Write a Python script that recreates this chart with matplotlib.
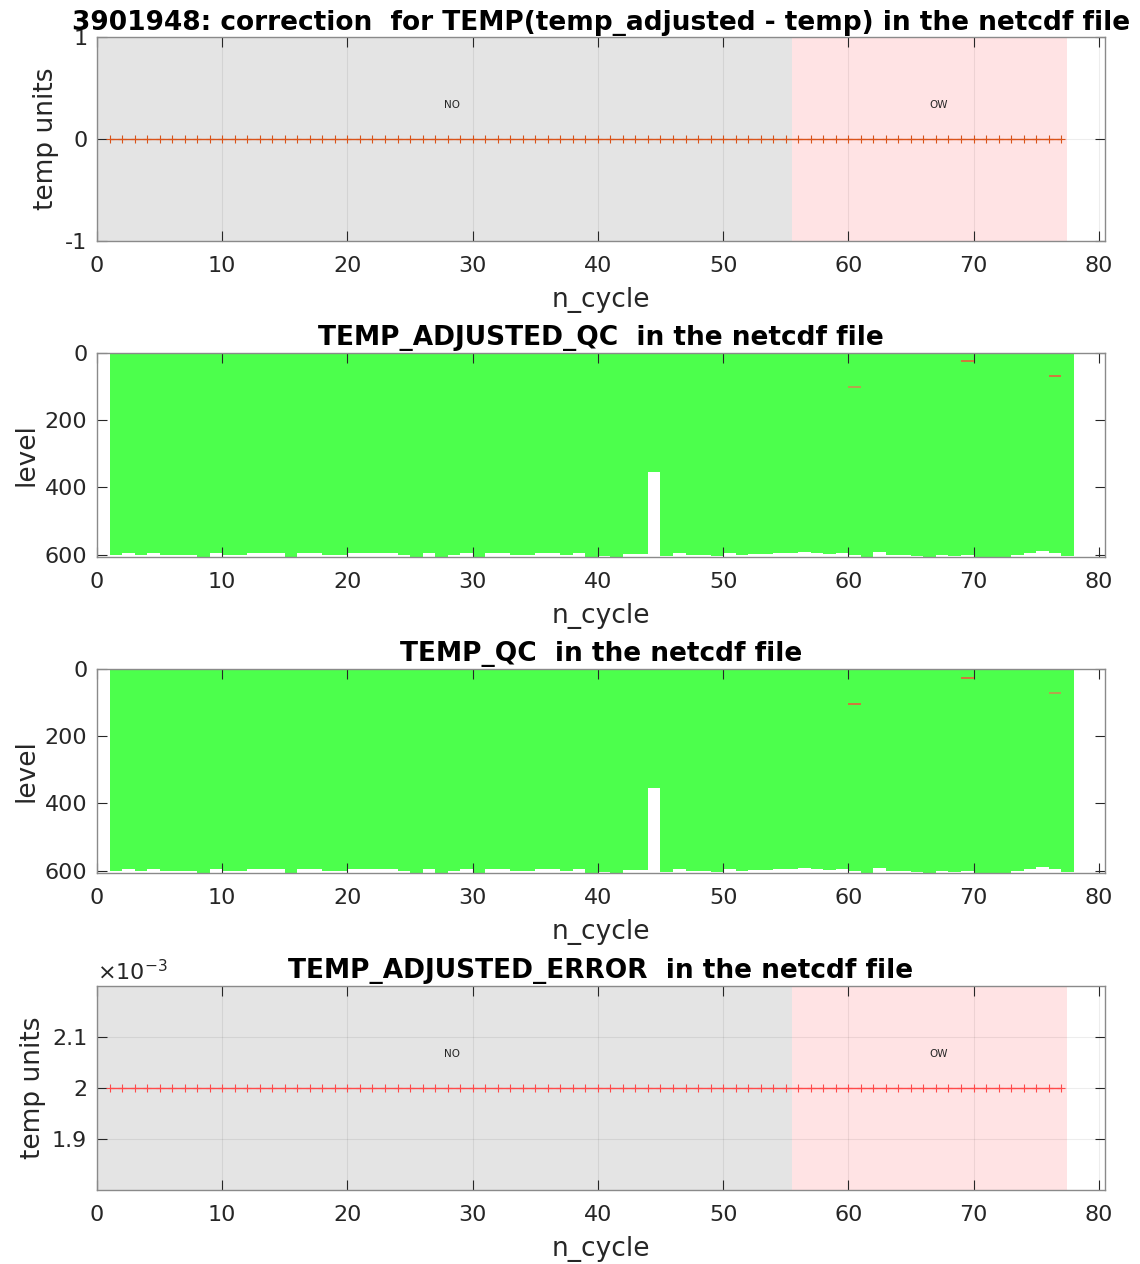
#!/usr/bin/env python3

import matplotlib
matplotlib.use('Agg')
import matplotlib.pyplot as plt
import matplotlib.ticker as ticker
import numpy as np

plt.rcParams['font.family'] = 'DejaVu Sans'
plt.rcParams['axes.unicode_minus'] = False

float_id = '3901948'
param = 'TEMP'

# cycles and profile data
cycles = np.arange(1, 78)
correction = np.zeros(len(cycles))
adj_error = np.full(len(cycles), 0.002)

# deepest level of each profile (cycles 1..77)
max_level = [601, 596, 601, 596, 601, 601, 601, 606, 596, 601,
             601, 596, 596, 596, 606, 596, 596, 601, 601, 596,
             596, 596, 596, 601, 606, 596, 606, 601, 596, 606,
             596, 596, 601, 601, 596, 596, 601, 596, 606, 603,
             606, 598, 598, 353, 605, 595, 601, 600, 603, 595,
             600, 598, 598, 596, 596, 592, 596, 598, 595, 601,
             606, 591, 601, 601, 603, 607, 601, 603, 600, 607,
             606, 606, 601, 596, 588, 595, 603]

# flagged points (cycle, level, flag)
adj_qc_cycles = [60, 69, 76]
adj_qc_levels = [101, 24, 68]
adj_qc_flags = [3, 4, 4]
qc_cycles = [60, 69, 76]
qc_levels = [105, 26, 71]
qc_flags = [4, 4, 3]

# calibration periods
period_start = [0, 55.5]
period_end = [55.5, 77.5]
period_label = ['NO', 'OW']
period_color = ['#e4e4e4', '#ffe3e4']

green = '#4cff4c'
flag_color = {3: '#c8924e', 4: '#e8603a'}
txt_color = '#262626'


def style_axes(ax):
    ax.set_xlim(0, 80.5)
    ax.set_xticks(np.arange(0, 81, 10))
    ax.tick_params(direction='in', top=True, right=True, length=7,
                   labelsize=16, colors=txt_color, width=0.8)
    ax.tick_params(axis='x', pad=11)
    ax.tick_params(axis='y', pad=7)
    for s in ax.spines.values():
        s.set_color('#8a8a8a')
        s.set_linewidth(1.0)
    ax.set_xlabel('n_cycle', fontsize=19, color=txt_color, labelpad=8)


def shade_periods(ax, ytext):
    for s, e, lab, c in zip(period_start, period_end, period_label, period_color):
        ax.axvspan(s, e, color=c, zorder=0, lw=0)
        ax.text((s + e) / 2, ytext, lab, fontsize=7.5, ha='left', va='center',
                color=txt_color)


fig = plt.figure(figsize=(11.4, 12.64), dpi=100)
left, width, height = 0.0851, 0.8842, 0.1614
bottoms = [0.8093, 0.5593, 0.3093, 0.0585]

# panel 1: correction
ax1 = fig.add_axes([left, bottoms[0], width, height])
shade_periods(ax1, 0.33)
ax1.plot(cycles, correction, color='#d95319', lw=1.0, marker='+', ms=6, mew=0.8)
ax1.set_ylim(-1, 1)
ax1.set_yticks([-1, 0, 1])
ax1.grid(True, color='k', alpha=0.07, lw=0.8)
style_axes(ax1)
ax1.set_ylabel('temp units', fontsize=19, color=txt_color)
ax1.set_title(f'{float_id}: correction  for {param}(temp_adjusted - temp) in the netcdf file',
              fontsize=19, fontweight='bold', pad=5)


def qc_panel(ax, title, bad_c, bad_l, bad_f):
    ax.bar(cycles, max_level, width=1, align='edge', color=green, lw=0, zorder=1)
    for c, l, f in zip(bad_c, bad_l, bad_f):
        ax.hlines(l, c, c + 1, colors=flag_color[f], lw=1.2, zorder=2)
    ax.set_ylim(607, 0)
    ax.set_yticks([0, 200, 400, 600])
    style_axes(ax)
    ax.set_ylabel('level', fontsize=19, color=txt_color)
    ax.set_title(title, fontsize=19, fontweight='bold', pad=5.5)


ax2 = fig.add_axes([left, bottoms[1], width, height])
qc_panel(ax2, f'{param}_ADJUSTED_QC  in the netcdf file', adj_qc_cycles, adj_qc_levels, adj_qc_flags)
ax3 = fig.add_axes([left, bottoms[2], width, height])
qc_panel(ax3, f'{param}_QC  in the netcdf file', qc_cycles, qc_levels, qc_flags)

# panel 4: adjusted error
ax4 = fig.add_axes([left, bottoms[3], width, height])
shade_periods(ax4, 0.0020667)
ax4.plot(cycles, adj_error, color='#ff4a4a', lw=1.0, marker='+', ms=6, mew=0.8)
ax4.set_ylim(0.0018, 0.0022)
ax4.set_yticks([0.0019, 0.0020, 0.0021])
ax4.yaxis.set_major_formatter(ticker.FuncFormatter(lambda v, p: f'{v * 1e3:g}'))
ax4.grid(True, color='k', alpha=0.07, lw=0.8)
style_axes(ax4)
ax4.set_ylabel('temp units', fontsize=19, color=txt_color)
ax4.set_title(f'{param}_ADJUSTED_ERROR  in the netcdf file',
              fontsize=19, fontweight='bold', pad=5.5)
ax4.text(0.0, 1.01, r'$\times10^{-3}$', transform=ax4.transAxes,
         fontsize=16, color=txt_color, ha='left', va='bottom')

fig.savefig('out.png', dpi=100)
